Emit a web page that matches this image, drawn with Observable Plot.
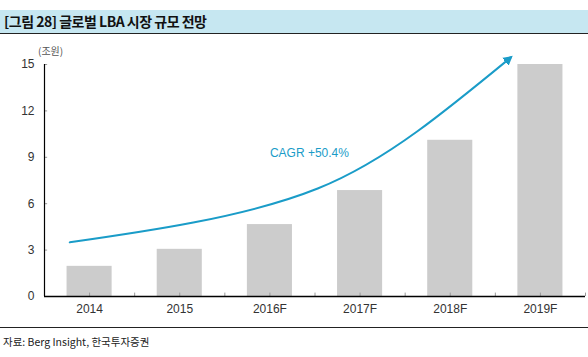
<!DOCTYPE html>
<html>
<head>
<meta charset="utf-8">
<script src="https://cdn.jsdelivr.net/npm/d3@7"></script>
<script src="https://cdn.jsdelivr.net/npm/@observablehq/plot@0.6"></script>
<style>
  body { margin: 0; background: #fff; width: 588px; height: 357px; position: relative; overflow: hidden; font-family: "Liberation Sans", Arial, sans-serif; }
  #title { position: absolute; left: 0; top: 10px; width: 588px; height: 24px; background: #c6e7f1; border-bottom: 1.5px solid #222; box-sizing: border-box; font-family: "Noto Sans CJK KR", sans-serif; font-weight: bold; font-size: 14px; line-height: 23px; padding-left: 4px; color: #111; letter-spacing: -0.5px; }
  #unit { position: absolute; left: 38px; top: 43px; font-family: "Noto Sans CJK KR", sans-serif; font-size: 10px; color: #555; }
  #chart { position: absolute; left: 0; top: 36px; }
  #rule { position: absolute; left: 0; top: 327px; width: 588px; height: 0; border-top: 1.5px solid #222; }
  #source { position: absolute; left: 3px; top: 334px; font-family: "Noto Sans CJK KR", sans-serif; font-size: 10.5px; color: #222; }
</style>
</head>
<body>
<div id="title">[그림 28] 글로벌 LBA 시장 규모 전망</div>
<div id="unit">(조원)</div>
<div id="chart"></div>
<div id="rule"></div>
<div id="source">자료: Berg Insight, 한국투자증권</div>
<script>
const categories = ["2014", "2015", "2016F", "2017F", "2018F", "2019F"];
const values = [1.95, 3.05, 4.65, 6.85, 10.1, 15.0];
const yTicks = [0, 3, 6, 9, 12, 15];
// CAGR trend arrow (x in category index units)
const curveX = [-0.22, 1.15, 2.53, 3.64, 4.67];
const curveY = [3.5, 4.78, 6.98, 10.7, 15.45];
const cagrLabel = "CAGR +50.4%";
const lineColor = "#1a9cc8";

const bars = categories.map((c, i) => ({i, c, v: values[i]}));
const curve = curveX.map((x, k) => ({x, y: curveY[k]}));
const halfTicks = d3.range(0, categories.length * 2 + 1).map(k => k / 2 - 0.5);

const plot = Plot.plot({
  width: 588,
  height: 290,
  marginLeft: 44,
  marginRight: 3,
  marginTop: 28,
  marginBottom: 30,
  style: {fontFamily: "'Liberation Sans', Arial, sans-serif", fontSize: "12px", color: "#333", background: "transparent"},
  x: {type: "linear", domain: [-0.5, categories.length - 0.5], label: null},
  y: {domain: [0, 15], label: null},
  marks: [
    Plot.rectY(bars, {x1: d => d.i - 0.25, x2: d => d.i + 0.25, y1: 0, y2: "v", fill: "#cccccc"}),
    Plot.ruleX(halfTicks, {y1: 0, y2: 0.22, stroke: "#999", strokeWidth: 1}),
    Plot.ruleY(yTicks, {x1: -0.5, x2: -0.5 + 0.035, stroke: "#999", strokeWidth: 1}),
    Plot.line(curve, {x: "x", y: "y", curve: "natural", stroke: lineColor, strokeWidth: 2, markerEnd: "arrow"}),
    Plot.text([cagrLabel], {x: 2.0, y: 9.25, text: d => d, textAnchor: "start", fill: lineColor, fontSize: 12}),
    Plot.ruleX([-0.5], {y1: 0, y2: 15, stroke: "#000", strokeWidth: 1.2}),
    Plot.ruleY([0], {stroke: "#000", strokeWidth: 1.5}),
    Plot.axisY({ticks: yTicks, tickSize: 0, tickPadding: 10, fontSize: 12, fill: "#333", label: null}),
    Plot.axisX({ticks: d3.range(categories.length), tickFormat: i => categories[i], tickSize: 0, tickPadding: 8, fontSize: 12, fill: "#333", label: null})
  ]
});

d3.select(plot).selectAll("marker").attr("fill", lineColor).attr("stroke", "none")
  .selectAll("path").attr("d", "M-5.5,-4L2,0L-5.5,4Z");

document.getElementById("chart").appendChild(plot);
</script>
</body>
</html>
